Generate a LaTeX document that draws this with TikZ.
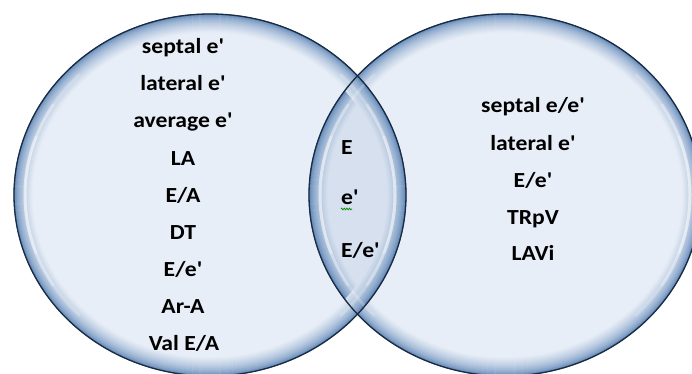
\documentclass[tikz,border=0pt]{standalone}
\usepackage{fontspec}
\newfontfamily\lblfont{Carlito}[FakeStretch=1.1]
\usetikzlibrary{decorations.pathmorphing}
\definecolor{bfill}{HTML}{E8EEF7}
\definecolor{bdeep}{HTML}{3F6EA8}
\definecolor{bedge}{HTML}{1B2B40}
\tikzset{
  lbl/.style={font=\lblfont\bfseries\fontsize{21.5}{25}\selectfont, text=black, inner sep=0pt},
  midlbl/.style={lbl, anchor=base},
  lenslbl/.style={lbl, anchor=base west},
  outline/.style={draw=bedge, line width=1.3pt},
  gloss/.style={draw=white, line width=3pt, line cap=round},
  ring/.style={line width=0.9pt},
}
\newcommand\bubblerings[1]{%
  \foreach \i in {0,...,38}{
    \pgfmathsetmacro\p{100*sqrt(\i/38)}
    \pgfmathsetmacro\rx{196-\i/2}
    \pgfmathsetmacro\ry{181-\i/2}
    \draw[ring, draw=bfill!\p!bdeep] (#1,195) ellipse [x radius=\rx, y radius=\ry];
  }%
}
\newcommand\bubblebody[1]{%
  \fill[bfill] (#1,195) ellipse [x radius=196, y radius=181];
  \bubblerings{#1}%
}
\begin{document}
\begin{tikzpicture}[x=1pt,y=-1pt]
\useasboundingbox (0,0) rectangle (692,374);
\fill[white] (0,0) rectangle (692,374);
\begin{scope}
\clip (0,0) rectangle (692,374);
\bubblebody{210}
\bubblebody{505}
\begin{scope}
  \clip (505,195) ellipse [x radius=196, y radius=181];
  \bubblerings{210}
  \fill[bdeep, fill opacity=0.1] (210,195) ellipse [x radius=196, y radius=181];
\end{scope}
\foreach \c in {210,505}{
  \foreach \a/\b/\o in {135/225/0.2, 148/212/0.25, 160/200/0.3, -45/45/0.2, -32/32/0.25, -20/20/0.3}{
    \draw[gloss, draw opacity=\o] ([shift={(\a:185 and 170)}]\c,195) arc[start angle=\a, end angle=\b, x radius=185, y radius=170];
  }
}
\draw[outline] (210,195) ellipse [x radius=196, y radius=181];
\draw[outline] (505,195) ellipse [x radius=196, y radius=181];
\end{scope}
% left set
\node[midlbl] (l1) at (183,54) {septal e'};
\node[midlbl] (l2) at (183,91) {lateral e'};
\node[midlbl] (l3) at (183,128) {average e'};
\node[midlbl] (l4) at (183,165) {LA};
\node[midlbl] (l5) at (183,202) {E/A};
\node[midlbl] (l6) at (183,239) {DT};
\node[midlbl] (l7) at (183,276) {E/e'};
\node[midlbl] (l8) at (183,313) {Ar-A};
\node[midlbl] (l9) at (184,350) {Val E/A};
% lens
\node[lenslbl] (c1) at (341,154) {E};
\node[lenslbl] (c2) at (341,204) {e'};
\node[lenslbl] (c3) at (341,257) {E/e'};
\draw[green!55!black, line width=0.7pt, decorate, decoration={zigzag, segment length=2.6pt, amplitude=0.9pt}]
  ([yshift=-5pt]c2.base west) -- ([yshift=-5pt,xshift=11pt]c2.base west);
% right set
\node[midlbl] (r1) at (533,113) {septal e/e'};
\node[midlbl] (r2) at (533,150) {lateral e'};
\node[midlbl] (r3) at (533,187) {E/e'};
\node[midlbl] (r4) at (533,224) {TRpV};
\node[midlbl] (r5) at (533,260) {LAVi};
\end{tikzpicture}
\end{document}
